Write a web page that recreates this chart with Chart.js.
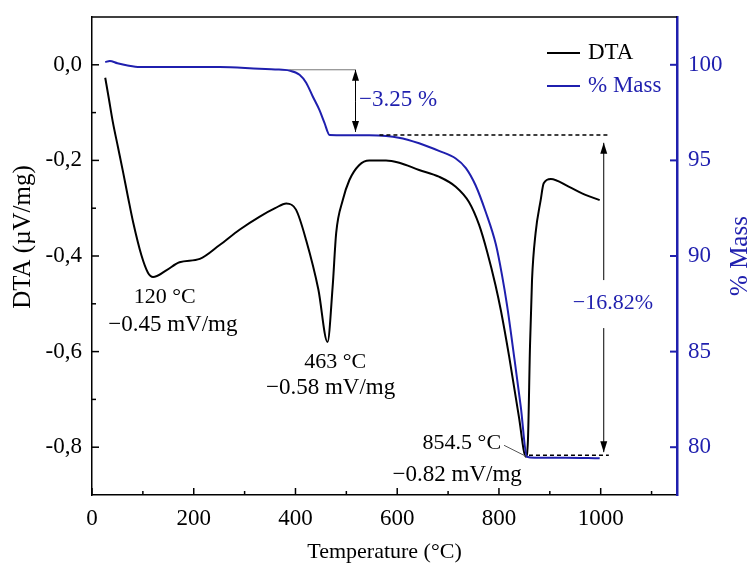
<!DOCTYPE html>
<html>
<head>
<meta charset="utf-8">
<script src="https://cdn.jsdelivr.net/npm/chart.js@4"></script>
<style>
  html, body { margin: 0; padding: 0; background: #fff; }
</style>
</head>
<body>
<canvas id="chart" width="750" height="565"></canvas>
<script>
// DTA curve (left axis, µV/mg)
const dtaTemp = [26, 33, 41, 51, 61, 71, 81, 97, 110, 120, 146, 172, 212, 251, 290, 329, 360, 382, 401, 421, 445, 463, 473, 480, 493, 506, 525, 545, 578, 604, 643, 682, 715, 741, 761, 777, 793, 804, 820, 839, 853, 857, 861, 865, 872, 882, 888, 902, 937, 970, 998];
const dtaVal = [-0.027, -0.07, -0.12, -0.172, -0.224, -0.278, -0.33, -0.398, -0.435, -0.444, -0.43, -0.413, -0.406, -0.377, -0.345, -0.318, -0.3, -0.29, -0.303, -0.367, -0.47, -0.58, -0.465, -0.352, -0.283, -0.241, -0.21, -0.2, -0.2, -0.205, -0.22, -0.234, -0.255, -0.287, -0.335, -0.392, -0.46, -0.515, -0.61, -0.735, -0.82, -0.785, -0.59, -0.45, -0.352, -0.283, -0.248, -0.239, -0.255, -0.272, -0.283];

// Mass curve (right axis, %)
const massTemp = [26, 35, 50, 70, 94, 150, 251, 329, 360, 388, 408, 421, 434, 447, 457, 467, 500, 545, 603, 643, 682, 715, 735, 754, 774, 794, 806, 816, 830, 843, 855, 870, 930, 998];
const massVal = [100.14, 100.2, 100.08, 99.96, 99.88, 99.88, 99.88, 99.79, 99.76, 99.70, 99.48, 99.06, 98.34, 97.64, 96.96, 96.33, 96.32, 96.31, 96.19, 95.9, 95.5, 95.1, 94.6, 93.7, 92.3, 90.6, 89.0, 87.4, 84.7, 82.1, 79.5, 79.45, 79.45, 79.42];

// axis ticks
const xTicks = [0, 200, 400, 600, 800, 1000];
const xMinor = [100, 300, 500, 700, 900, 1100];
const yTicks = [0, -0.2, -0.4, -0.6, -0.8];
const yMinor = [-0.1, -0.3, -0.5, -0.7];
const y1Ticks = [80, 85, 90, 95, 100];

const BLUE = '#1f1fae';
const FONT = '"Liberation Serif", "Times New Roman", serif';

function arrow(ctx, x0, y0, x1, y1) {
    const ang = Math.atan2(y1 - y0, x1 - x0);
    const L = 11, W = 3.5;
    ctx.beginPath();
    ctx.moveTo(x0, y0);
    ctx.lineTo(x1, y1);
    ctx.stroke();
    ctx.beginPath();
    ctx.moveTo(x1, y1);
    ctx.lineTo(x1 - L * Math.cos(ang) + W * Math.sin(ang), y1 - L * Math.sin(ang) - W * Math.cos(ang));
    ctx.lineTo(x1 - L * Math.cos(ang) - W * Math.sin(ang), y1 - L * Math.sin(ang) + W * Math.cos(ang));
    ctx.closePath();
    ctx.fill();
}

const extras = {
    id: 'extras',
    afterDatasetsDraw(chart) {
        const ctx = chart.ctx;
        const a = chart.chartArea;
        const x = chart.scales.x, y = chart.scales.y, y1 = chart.scales.y1;
        ctx.save();

        // top frame line
        ctx.strokeStyle = '#000';
        ctx.lineWidth = 1.5;
        ctx.beginPath();
        ctx.moveTo(a.left, a.top);
        ctx.lineTo(a.right, a.top);
        ctx.stroke();

        // inward ticks
        function tick(px, py, dx, dy) {
            ctx.beginPath();
            ctx.moveTo(px, py);
            ctx.lineTo(px + dx, py + dy);
            ctx.stroke();
        }
        xTicks.forEach(v => tick(x.getPixelForValue(v), a.bottom, 0, -7));
        xMinor.forEach(v => tick(x.getPixelForValue(v), a.bottom, 0, -4));
        yTicks.forEach(v => tick(a.left, y.getPixelForValue(v), 7, 0));
        yMinor.forEach(v => tick(a.left, y.getPixelForValue(v), 4, 0));
        ctx.strokeStyle = BLUE;
        ctx.lineWidth = 2;
        y1Ticks.forEach(v => tick(a.right, y1.getPixelForValue(v), -7, 0));

        // -3.25 % step
        ctx.strokeStyle = '#777';
        ctx.fillStyle = '#000';
        ctx.lineWidth = 1;
        const sx = x.getPixelForValue(518);
        ctx.beginPath();
        ctx.moveTo(x.getPixelForValue(388), y1.getPixelForValue(99.74));
        ctx.lineTo(sx, y1.getPixelForValue(99.74));
        ctx.stroke();
        ctx.strokeStyle = '#000';
        const ym = y1.getPixelForValue(98.1);
        arrow(ctx, sx, ym, sx, y1.getPixelForValue(99.74));
        arrow(ctx, sx, ym, sx, y1.getPixelForValue(96.49));

        // -16.82 % step
        ctx.lineWidth = 1.5;
        ctx.setLineDash([4, 3]);
        ctx.beginPath();
        ctx.moveTo(x.getPixelForValue(565), y1.getPixelForValue(96.33));
        ctx.lineTo(x.getPixelForValue(1016), y1.getPixelForValue(96.33));
        ctx.moveTo(x.getPixelForValue(859), y1.getPixelForValue(79.58));
        ctx.lineTo(x.getPixelForValue(1016), y1.getPixelForValue(79.58));
        ctx.stroke();
        ctx.setLineDash([]);
        ctx.lineWidth = 1;
        const bx = x.getPixelForValue(1006);
        arrow(ctx, bx, y1.getPixelForValue(88.74), bx, y1.getPixelForValue(95.92));
        arrow(ctx, bx, y1.getPixelForValue(86.23), bx, y1.getPixelForValue(79.74));

        // leader line to 854.5 °C
        ctx.strokeStyle = '#555';
        ctx.beginPath();
        ctx.moveTo(x.getPixelForValue(810), y.getPixelForValue(-0.796));
        ctx.lineTo(x.getPixelForValue(853), y.getPixelForValue(-0.819));
        ctx.stroke();

        // texts
        ctx.textBaseline = 'middle';
        ctx.fillStyle = BLUE;
        ctx.font = '23px ' + FONT;
        ctx.textAlign = 'left';
        ctx.fillText('\u22123.25 %', x.getPixelForValue(525), y1.getPixelForValue(98.17));
        ctx.font = '22px ' + FONT;
        ctx.textAlign = 'center';
        ctx.fillText('\u221216.82%', x.getPixelForValue(1024), y1.getPixelForValue(87.54));

        ctx.fillStyle = '#000';
        const labels = [
            ['120 \u00b0C', 143, -0.486, 22], ['\u22120.45 mV/mg', 159, -0.545, 23],
            ['463 \u00b0C', 478, -0.622, 22], ['\u22120.58 mV/mg', 469, -0.676, 23],
            ['854.5 \u00b0C', 727, -0.792, 22], ['\u22120.82 mV/mg', 718, -0.859, 23]
        ];
        labels.forEach(l => {
            ctx.font = l[3] + 'px ' + FONT;
            ctx.fillText(l[0], x.getPixelForValue(l[1]), y.getPixelForValue(l[2]));
        });

        // legend
        ctx.font = '23px ' + FONT;
        ctx.textAlign = 'left';
        ctx.lineWidth = 2;
        ctx.strokeStyle = '#000';
        tick(547, 53, 33, 0);
        ctx.fillText('DTA', 588, 53);
        ctx.strokeStyle = BLUE;
        ctx.fillStyle = BLUE;
        tick(547, 86, 33, 0);
        ctx.fillText('% Mass', 588, 86);

        // axis titles (rotated, reading upward)
        ctx.font = '25px ' + FONT;
        ctx.textAlign = 'center';
        ctx.save();
        ctx.translate(740, 256);
        ctx.rotate(-Math.PI / 2);
        ctx.fillText('% Mass', 0, 0);
        ctx.restore();
        ctx.fillStyle = '#000';
        ctx.translate(23, 237);
        ctx.rotate(-Math.PI / 2);
        ctx.fillText('DTA (\u00b5V/mg)', 0, 0);
        ctx.restore();
    }
};

const ctx = document.getElementById('chart').getContext('2d');
new Chart(ctx, {
    type: 'line',
    data: {
        datasets: [{
            label: 'DTA',
            data: dtaTemp.map((t, i) => ({ x: t, y: dtaVal[i] })),
            borderColor: '#000',
            borderWidth: 2,
            pointRadius: 0,
            cubicInterpolationMode: 'monotone',
            yAxisID: 'y',
            order: 1
        }, {
            label: '% Mass',
            data: massTemp.map((t, i) => ({ x: t, y: massVal[i] })),
            borderColor: BLUE,
            borderWidth: 2,
            pointRadius: 0,
            cubicInterpolationMode: 'monotone',
            yAxisID: 'y1',
            order: 0
        }]
    },
    options: {
        responsive: false,
        animation: false,
        devicePixelRatio: 1,
        layout: { padding: { top: 17, left: 0, right: 0, bottom: 0 } },
        plugins: { legend: { display: false }, tooltip: { enabled: false } },
        scales: {
            x: {
                type: 'linear', min: 0, max: 1150,
                grid: { display: false },
                border: { color: '#000', width: 1.5 },
                afterBuildTicks: s => { s.ticks = xTicks.map(v => ({ value: v })); },
                afterFit: s => { s.height = 70; },
                ticks: { color: '#000', padding: 2, maxRotation: 0, font: { family: FONT, size: 23 },
                    callback: v => String(v) },
                title: { display: true, text: 'Temperature (\u00b0C)', color: '#000', padding: 0, font: { family: FONT, size: 22 } }
            },
            y: {
                type: 'linear', position: 'left', min: -0.9, max: 0.1,
                grid: { display: false },
                border: { color: '#000', width: 1.5 },
                afterBuildTicks: s => { s.ticks = yTicks.map(v => ({ value: v })); },
                afterFit: s => { s.width = 92; },
                ticks: { color: '#000', padding: 2, font: { family: FONT, size: 23 },
                    callback: v => v.toFixed(1).replace('.', ',') }
            },
            y1: {
                type: 'linear', position: 'right', min: 77.5, max: 102.5,
                grid: { display: false },
                border: { color: BLUE, width: 2.5 },
                afterBuildTicks: s => { s.ticks = y1Ticks.map(v => ({ value: v })); },
                afterFit: s => { s.width = 73; },
                ticks: { color: BLUE, padding: 3, font: { family: FONT, size: 23 } }
            }
        }
    },
    plugins: [extras]
});
</script>
</body>
</html>
